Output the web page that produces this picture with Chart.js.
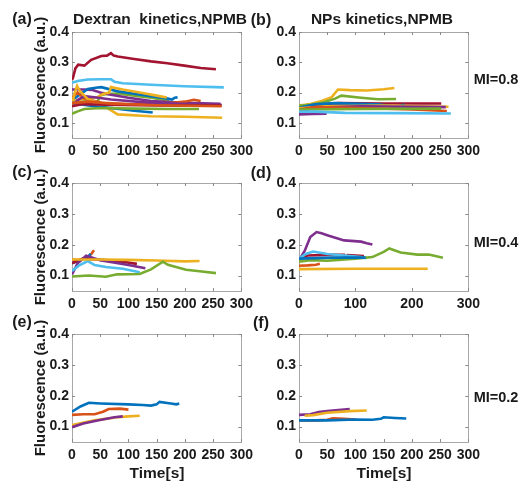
<!DOCTYPE html>
<html>
<head>
<meta charset="utf-8">
<script src="https://cdn.jsdelivr.net/npm/chart.js@4/dist/chart.umd.min.js"></script>
<style>
  html, body { margin: 0; padding: 0; background: #fff; }
  #wrap { position: relative; width: 520px; height: 483px; overflow: hidden; font-family: "Liberation Sans", Arial, sans-serif; font-weight: bold; color: #1a1a1a; }
  canvas { position: absolute; }
  .lbl { position: absolute; white-space: pre; transform: translate(-50%, -50%); }
  .ylab { position: absolute; white-space: pre; transform: translate(-50%, -50%) rotate(-90deg); font-size: 15px; }
</style>
</head>
<body>
<div id="wrap"></div>
<script>
// ---------- axis ticks ----------
const xTicks = [0, 50, 100, 150, 200, 250, 300];
const xTicksWide = [0, 100, 200, 300];
const yTicks = [0.1, 0.2, 0.3, 0.4];

// ---------- text ----------
const panelLetters = ["(a)", "(b)", "(c)", "(d)", "(e)", "(f)"];
const panelTitles = ["Dextran  kinetics,NPMB", "NPs kinetics,NPMB"];
const rowLabels = ["MI=0.8", "MI=0.4", "MI=0.2"];
const yTitle = "Fluorescence (a.u.)";
const xTitle = "Time[s]";

// ---------- colours (series order) ----------
const C = { blue: "#0072BD", orange: "#D95319", yellow: "#EDB120", purple: "#7E2F8E", green: "#77AC30", lightblue: "#4DBEEE", darkred: "#A2142F" };

// ---------- (a) Dextran, MI=0.8 ----------
const a_darkred1 = [[0,0.242],[2,0.25],[6,0.28],[11,0.292],[22,0.289],[34,0.308],[52,0.321],[62,0.322],[69,0.33],[74,0.322],[81,0.319],[110,0.311],[140,0.303],[169,0.297],[199,0.289],[228,0.281],[255,0.277]];
const a_lightblue = [[0,0.232],[10,0.238],[28,0.243],[52,0.244],[69,0.244],[75,0.236],[90,0.231],[140,0.226],[199,0.221],[269,0.217]];
const a_yellow1 = [[0,0.17],[20,0.18],[45,0.185],[55,0.195],[66,0.2],[69,0.218],[90,0.21],[120,0.2],[150,0.19],[168,0.184]];
const a_blue1 = [[0,0.175],[15,0.195],[28,0.212],[42,0.216],[52,0.218],[81,0.204],[110,0.196],[140,0.188],[170,0.18],[177,0.177],[182,0.183],[187,0.184]];
const a_purple1 = [[0,0.21],[20,0.21],[35,0.209],[50,0.2],[69,0.193],[100,0.183],[140,0.172],[200,0.166],[263,0.163]];
const a_green1 = [[0,0.168],[20,0.17],[46,0.172],[50,0.19],[60,0.195],[81,0.197],[110,0.19],[140,0.183],[172,0.173]];
const a_orange1 = [[0,0.183],[10,0.2],[22,0.18],[52,0.166],[110,0.161],[169,0.165],[200,0.17],[216,0.176],[228,0.172]];
const a_darkred2 = [[0,0.155],[20,0.162],[60,0.16],[120,0.158],[200,0.157],[265,0.157]];
const a_blue2 = [[0,0.166],[20,0.16],[52,0.152],[80,0.147],[110,0.14],[143,0.134]];
const a_green2 = [[0,0.13],[10,0.138],[22,0.146],[52,0.149],[110,0.147],[170,0.146],[225,0.146]];
const a_yellow2 = [[0,0.16],[5,0.2],[9,0.222],[14,0.205],[28,0.178],[52,0.162],[70,0.14],[81,0.128],[140,0.122],[200,0.12],[266,0.117]];
const a_purple2 = [[0,0.155],[10,0.175],[22,0.188],[50,0.182],[69,0.177],[140,0.166],[228,0.161],[265,0.16]];
const a_orange2 = [[0,0.165],[30,0.17],[70,0.163],[150,0.158],[265,0.155]];

// ---------- (b) NPs, MI=0.8 ----------
const b_yellow1 = [[0,0.157],[20,0.162],[40,0.172],[58,0.185],[69,0.21],[90,0.208],[120,0.207],[150,0.211],[169,0.215]];
const b_green1 = [[0,0.156],[20,0.16],[40,0.166],[64,0.18],[75,0.19],[110,0.183],[140,0.178],[172,0.179]];
const b_darkred = [[0,0.139],[16,0.155],[52,0.163],[70,0.165],[150,0.164],[252,0.164]];
const b_blue = [[0,0.15],[28,0.161],[64,0.165],[140,0.161],[165,0.155],[175,0.153],[187,0.161]];
const b_yellow2 = [[0,0.148],[50,0.155],[150,0.157],[265,0.153]];
const b_orange = [[0,0.144],[28,0.152],[110,0.149],[200,0.144],[262,0.139]];
const b_purple1 = [[0,0.13],[22,0.15],[110,0.155],[200,0.153],[260,0.152]];
const b_green2 = [[0,0.144],[110,0.146],[252,0.147]];
const b_lightblue = [[0,0.137],[28,0.137],[81,0.133],[180,0.132],[269,0.131]];
const b_purple2 = [[0,0.128],[25,0.129],[49,0.13]];

// ---------- (c) Dextran, MI=0.4 ----------
const c_yellow = [[0,0.152],[50,0.152],[100,0.151],[150,0.149],[200,0.146],[226,0.147]];
const c_green = [[0,0.097],[30,0.1],[60,0.096],[80,0.104],[120,0.105],[140,0.12],[161,0.145],[170,0.135],[202,0.119],[230,0.113],[255,0.108]];
const c_lightblue = [[0,0.115],[12,0.132],[28,0.147],[40,0.134],[60,0.128],[90,0.122],[120,0.111]];
const c_purple = [[0,0.104],[10,0.14],[25,0.164],[50,0.15],[100,0.134],[130,0.124]];
const c_darkred = [[0,0.14],[20,0.155],[60,0.15],[90,0.145],[115,0.138]];
const c_orange = [[0,0.152],[10,0.15],[20,0.155],[30,0.162],[35,0.172],[39,0.182]];
const c_blue = [[0,0.14],[15,0.15],[28,0.16],[33,0.17]];

// ---------- (d) NPs, MI=0.4 ----------
const d_purple = [[0,0.15],[10,0.18],[20,0.225],[31,0.241],[40,0.237],[50,0.231],[80,0.214],[110,0.21],[120,0.205],[130,0.201]];
const d_lightblue = [[0,0.155],[12,0.17],[25,0.178],[50,0.17],[80,0.165],[110,0.16],[120,0.156]];
const d_darkred = [[0,0.155],[15,0.165],[50,0.167],[80,0.167],[83,0.158],[86,0.166],[115,0.163]];
const d_green = [[0,0.145],[20,0.15],[50,0.148],[100,0.155],[130,0.16],[150,0.177],[160,0.188],[180,0.175],[210,0.168],[230,0.168],[255,0.158]];
const d_blue = [[0,0.155],[60,0.158],[118,0.158]];
const d_orange = [[0,0.132],[15,0.133],[30,0.135],[37,0.138]];
const d_yellow = [[0,0.121],[100,0.122],[228,0.122]];

// ---------- (e) Dextran, MI=0.2 ----------
const e_blue = [[0,0.148],[15,0.165],[30,0.177],[50,0.175],[100,0.172],[125,0.17],[140,0.168],[150,0.172],[155,0.18],[175,0.175],[185,0.172],[190,0.175]];
const e_orange = [[0,0.138],[20,0.14],[40,0.14],[55,0.148],[65,0.157],[85,0.158],[100,0.155]];
const e_yellow = [[0,0.105],[40,0.12],[80,0.13],[100,0.133],[120,0.135]];
const e_purple = [[0,0.098],[20,0.11],[45,0.12],[75,0.13],[90,0.133]];

// ---------- (f) NPs, MI=0.2 ----------
const f_purple = [[0,0.138],[20,0.14],[35,0.147],[50,0.15],[80,0.155],[90,0.157]];
const f_yellow = [[10,0.135],[25,0.137],[50,0.145],[90,0.15],[120,0.152]];
const f_orange = [[0,0.12],[30,0.12],[50,0.122],[60,0.127],[80,0.125],[100,0.123]];
const f_blue = [[0,0.12],[50,0.12],[100,0.123],[130,0.122],[145,0.125],[150,0.13],[170,0.128],[190,0.126]];

// ---------- panel composition ----------
const panels = [
  { rect: [72, 32, 242, 138], xt: xTicks, series: [
      [a_darkred1, C.darkred], [a_lightblue, C.lightblue], [a_orange2, C.orange], [a_darkred2, C.darkred],
      [a_green2, C.green], [a_blue2, C.blue], [a_yellow2, C.yellow], [a_purple2, C.purple],
      [a_orange1, C.orange], [a_yellow1, C.yellow], [a_blue1, C.blue], [a_purple1, C.purple], [a_green1, C.green] ] },
  { rect: [299, 32, 469, 138], xt: xTicks, series: [
      [b_lightblue, C.lightblue], [b_purple2, C.purple], [b_green2, C.green], [b_orange, C.orange],
      [b_purple1, C.purple], [b_yellow2, C.yellow], [b_blue, C.blue], [b_darkred, C.darkred],
      [b_green1, C.green], [b_yellow1, C.yellow] ] },
  { rect: [72, 183, 242, 291], xt: xTicks, series: [
      [c_green, C.green], [c_yellow, C.yellow], [c_lightblue, C.lightblue], [c_purple, C.purple],
      [c_darkred, C.darkred], [c_blue, C.blue], [c_orange, C.orange] ] },
  { rect: [299, 183, 469, 291], xt: xTicksWide, series: [
      [d_yellow, C.yellow], [d_orange, C.orange], [d_blue, C.blue], [d_green, C.green],
      [d_lightblue, C.lightblue], [d_darkred, C.darkred], [d_purple, C.purple] ] },
  { rect: [72, 334, 242, 442], xt: xTicks, series: [
      [e_purple, C.purple], [e_yellow, C.yellow], [e_orange, C.orange], [e_blue, C.blue] ] },
  { rect: [299, 334, 469, 442], xt: xTicks, series: [
      [f_blue, C.blue], [f_orange, C.orange], [f_yellow, C.yellow], [f_purple, C.purple] ] }
];

// box + inward ticks (MATLAB style), placed through the chart's own scales
const boxPlugin = {
  id: 'boxTicks',
  beforeDatasetsDraw(chart) {
    const { ctx, chartArea: a, scales: { x, y } } = chart;
    ctx.save();
    ctx.lineWidth = 1;
    ctx.strokeStyle = '#a8a8a8';
    ctx.strokeRect(Math.round(a.left) + 0.5, Math.round(a.top) + 0.5, Math.round(a.right - a.left), Math.round(a.bottom - a.top));
    ctx.strokeStyle = '#8a8a8a';
    ctx.beginPath();
    x.ticks.forEach(t => {
      const p = Math.round(x.getPixelForValue(t.value)) + 0.5;
      ctx.moveTo(p, a.bottom); ctx.lineTo(p, a.bottom - 3);
      ctx.moveTo(p, a.top); ctx.lineTo(p, a.top + 3);
    });
    y.ticks.forEach(t => {
      const p = Math.round(y.getPixelForValue(t.value)) + 0.5;
      ctx.moveTo(a.left, p); ctx.lineTo(a.left + 3, p);
      ctx.moveTo(a.right, p); ctx.lineTo(a.right - 3, p);
    });
    ctx.stroke();
    ctx.restore();
  }
};

const wrap = document.getElementById('wrap');
const PADL = 45, PADT = 12, PADR = 16, PADB = 26;
const tickFont = { family: "'Liberation Sans', Arial, sans-serif", size: 14, weight: 'bold' };

panels.forEach(p => {
  const [L, T, R, B] = p.rect;
  const w = (R - L) + PADL + PADR, h = (B - T) + PADT + PADB;
  const cv = document.createElement('canvas');
  cv.width = w; cv.height = h;
  cv.style.left = (L - PADL) + 'px'; cv.style.top = (T - PADT) + 'px';
  cv.style.width = w + 'px'; cv.style.height = h + 'px';
  wrap.appendChild(cv);
  new Chart(cv, {
    type: 'line',
    data: {
      datasets: p.series.map(([pts, col]) => ({
        data: pts.map(([t, v]) => ({ x: t, y: v })),
        borderColor: col, borderWidth: 2.6, pointRadius: 0, tension: 0, fill: false
      }))
    },
    options: {
      responsive: false, animation: false, devicePixelRatio: 1,
      layout: { padding: { left: 0, top: PADT, right: PADR, bottom: 0 } },
      plugins: { legend: { display: false }, tooltip: { enabled: false } },
      scales: {
        x: {
          type: 'linear', min: 0, max: 300,
          afterBuildTicks: s => { s.ticks = p.xt.map(v => ({ value: v })); },
          afterFit: s => { s.height = PADB; },
          grid: { display: false, drawTicks: false }, border: { display: false },
          ticks: { color: '#1a1a1a', font: tickFont, padding: 5, maxRotation: 0, autoSkip: false }
        },
        y: {
          type: 'linear', min: 0.05, max: 0.4,
          afterBuildTicks: s => { s.ticks = yTicks.map(v => ({ value: v })); },
          afterFit: s => { s.width = PADL; },
          grid: { display: false, drawTicks: false }, border: { display: false },
          ticks: { color: '#1a1a1a', font: tickFont, padding: 3, callback: v => Number(v).toFixed(1) }
        }
      }
    },
    plugins: [boxPlugin]
  });
});

function addText(txt, x, y, size, cls) {
  const d = document.createElement('div');
  d.className = cls || 'lbl';
  d.textContent = txt;
  d.style.left = x + 'px'; d.style.top = y + 'px';
  if (size) d.style.fontSize = size + 'px';
  wrap.appendChild(d);
}
// panel letters
const letterPos = [[22, 19], [261, 20], [22, 172], [261, 173], [22, 322], [261, 323]];
panelLetters.forEach((t, i) => addText(t, letterPos[i][0], letterPos[i][1], 16));
// titles
addText(panelTitles[0], 160, 19, 15.5);
addText(panelTitles[1], 382, 19, 15.5);
// row labels
addText(rowLabels[0], 496, 79, 14.5);
addText(rowLabels[1], 496, 242, 14.5);
addText(rowLabels[2], 496, 397, 14.5);
// y titles
[85, 237, 388].forEach(cy => addText(yTitle, 38.5, cy, null, 'ylab'));
// x titles
addText(xTitle, 157, 473, 15.5);
addText(xTitle, 384, 473, 15.5);
</script>
</body>
</html>
